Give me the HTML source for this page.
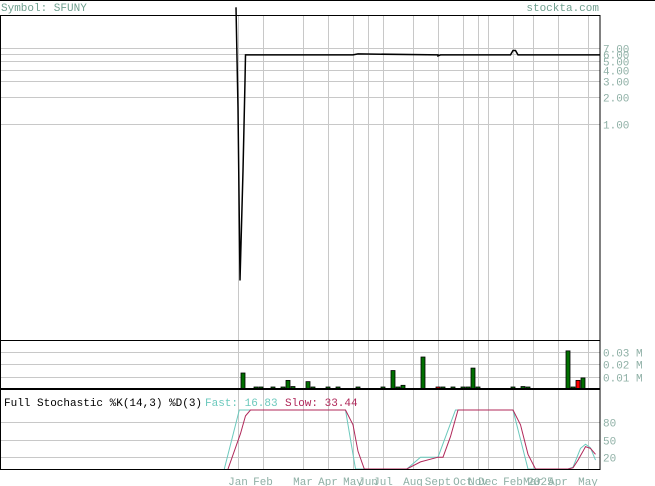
<!DOCTYPE html>
<html><head><meta charset="utf-8"><style>
body{margin:0;background:#fff}
svg{display:block;font-family:"Liberation Mono","DejaVu Sans Mono",monospace}
</style></head><body>
<svg id="c" width="655" height="486">
<text x="1" y="11" font-size="11" fill="#6f9f8f">Symbol: SFUNY</text>
<text x="599" y="11" font-size="11" fill="#6f9f8f" text-anchor="end">stockta.com</text>
<line x1="0" y1="0.5" x2="655" y2="0.5" stroke="#000"/>
<g id="grid"></g>
<g id="marks"></g>
<rect x="0.5" y="15.5" width="599.5" height="325" fill="none" stroke="#000"/>
<rect x="0.5" y="340.5" width="599.5" height="49" fill="none" stroke="#000"/>
<rect x="0.5" y="389.5" width="599.5" height="80" fill="none" stroke="#000"/>
<text x="4" y="406" font-size="11" fill="#000">Full Stochastic %K(14,3) %D(3)</text>
<text x="205" y="406" font-size="11" fill="#6cc9bd">Fast: 16.83</text>
<text x="285" y="406" font-size="11" fill="#b0285a">Slow: 33.44</text>
</svg>
<script>
// time unit: months-ish index, 0 = Jan
const monthLabels=["Jan","Feb","Mar","Apr","May","Jun","Jul","Aug","Sept","Oct","Nov","Dec","Feb","Mar","2025","Apr","May"];
const monthT=[0,1,2.6,3.6,4.6,5.2,5.8,7,8,9,9.6,10,11,11.8,12.1,12.8,14];
const priceTicks=[7,6,5,4,3,2,1];
const priceT=[-0.08,0,0.08,0.2,0.28,0.3,4.6,4.8,8,8,8.1,8.2,10.9,11,11.1,11.2,14.5];
const priceV=[20,1.5,0.018,0.3,3,5.9,5.9,6.05,5.9,5.75,5.9,5.9,5.9,6.6,6.6,5.9,5.9];
const volTicks=[0.03,0.02,0.01];
const volT=[0.2,0.72,0.92,1.4,1.8,2,2.2,2.8,3,3.6,4,4.8,5.8,6.2,6.4,6.6,7.4,8,8.2,8.6,9,9.2,9.4,9.6,11,11.4,11.6,13.2,13.4,13.6,13.8];
const volV=[0.013,0.0003,0.0003,0.0003,0.0003,0.007,0.002,0.006,0.0003,0.0003,0.0003,0.0003,0.0003,0.015,0.0003,0.003,0.026,0.0003,0.0003,0.0003,0.0003,0.0003,0.017,0.0003,0.0003,0.002,0.0003,0.031,0.001,0.007,0.009];
const volDown=[0,0,0,0,0,0,0,0,0,0,0,0,0,0,0,0,0,1,0,0,0,0,0,0,0,0,0,0,0,1,0];
const stochTicks=[80,50,20];
const fastT=[-0.55,0.05,4.3,4.7,6.75,7.3,8,8.7,11,11.6,13.2,13.4,13.7,13.9,14.1,14.3];
const fastV=[0,100,100,0,0,20,20,100,100,0,0,3,35,42,36,15];
const slowT=[-0.4,0.1,0.3,0.5,4.3,4.6,4.8,5.05,6.75,7.3,8,8.2,8.5,8.8,11,11.3,11.6,11.9,13.2,13.4,13.6,13.8,13.9,14.1,14.3];
const slowV=[0,60,90,100,100,75,30,0,0,12,20,20,55,100,100,75,25,0,0,2,15,30,38,35,25];

const X=t=>238+t*25;
const Yp=p=>124-38.95*Math.log(p);
const Yv=v=>389-v*1230;
const Ys=s=>469-s*0.59;
const NS="http://www.w3.org/2000/svg";
const grid=document.getElementById('grid'),marks=document.getElementById('marks'),svg=document.getElementById('c');
function el(tag,attrs,parent){const e=document.createElementNS(NS,tag);for(const k in attrs)e.setAttribute(k,attrs[k]);parent.appendChild(e);return e;}
monthT.forEach((t,i)=>{
  const x=Math.round(X(t))+0.5;
  if(monthLabels[i]!=="2025"){
    const l=el('line',{x1:x,y1:16,x2:x,y2:469,stroke:'#c8c8c8'},grid);
    
    
  }
  const tx=el('text',{x:X(t),y:485,'font-size':11,fill:'#8fb0a6','text-anchor':'middle'},svg);
  tx.textContent=monthLabels[i];
  
  
});
priceTicks.forEach(p=>{
  const y=Math.round(Yp(p))+0.5;
  const l=el('line',{x1:0,y1:y,x2:600,y2:y,stroke:'#c8c8c8'},grid);
  
  
  const tx=el('text',{x:603,y:y+4,'font-size':11,fill:'#8fb0a6'},svg);
  tx.textContent=p.toFixed(2);
  
  
});
volTicks.forEach(v=>{
  const y=Math.round(Yv(v))+0.5;
  const l=el('line',{x1:0,y1:y,x2:600,y2:y,stroke:'#c8c8c8'},grid);
  
  
  const tx=el('text',{x:603,y:y+4,'font-size':11,fill:'#8fb0a6'},svg);
  tx.textContent=v.toFixed(2)+' M';
  
  
});
stochTicks.forEach(s=>{
  const y=Math.round(Ys(s))+0.5;
  const l=el('line',{x1:0,y1:y,x2:600,y2:y,stroke:'#c8c8c8'},grid);
  
  
  const tx=el('text',{x:603,y:y+4,'font-size':11,fill:'#8fb0a6'},svg);
  tx.textContent=s;
  
  
});
function pts(ts,vs,Y){return ts.map((t,i)=>X(t).toFixed(1)+','+Math.max(0,Y(vs[i])).toFixed(1)).join(' ');}
const pl=el('polyline',{points:pts(priceT,priceV,Yp),fill:'none',stroke:'#000','stroke-width':1.5},marks);


volT.forEach((t,i)=>{
  const y=Math.min(Yv(volV[i]),387);
  const b=el('rect',{x:X(t)-2,y:y,width:4,height:389-y,fill:volDown[i]?'#f00':'#007000',stroke:'#000','stroke-width':0.8},marks);
  
  
});
const base=el('line',{x1:0,y1:389,x2:600,y2:389,stroke:'#000','stroke-width':2},marks);


const fl=el('polyline',{points:pts(fastT,fastV,Ys),fill:'none',stroke:'#6cc9bd','stroke-width':1},marks);


const sl=el('polyline',{points:pts(slowT,slowV,Ys),fill:'none',stroke:'#b0285a','stroke-width':1},marks);


</script>
</body></html>
